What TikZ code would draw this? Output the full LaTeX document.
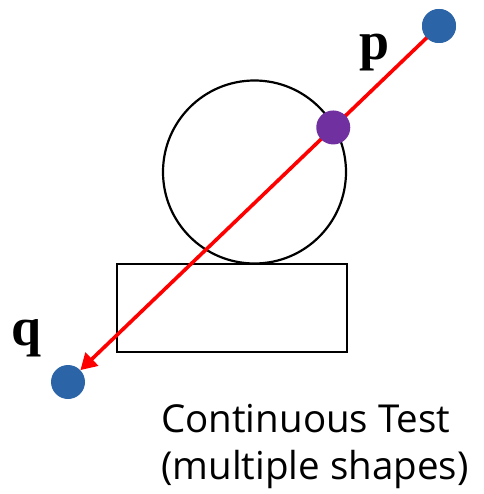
\documentclass[tikz,border=0pt]{standalone}
\usepackage{fontspec}
\setmainfont{Liberation Serif}
\newfontfamily\capfont{Open Sans}
\usetikzlibrary{arrows.meta,calc}
\begin{document}
\begin{tikzpicture}[x=1pt,y=-1pt,
  dot/.style={circle,inner sep=0pt,minimum size=34pt},
  outline/.style={draw=black,line width=2.2pt},
  ray/.style={draw=red,line width=3.6pt,-{Triangle[length=16pt,width=18pt]}},
  lbl/.style={font=\fontsize{54}{54}\selectfont\bfseries,inner sep=0pt,anchor=base}]
\useasboundingbox (0,0) rectangle (483,494);
\node[outline,circle,minimum size=183pt,inner sep=0pt] (circ) at (254.5,172) {};
\node[outline,rectangle,minimum width=230pt,minimum height=88pt,inner sep=0pt] (box) at (232,308) {};
\node[dot,fill={rgb,255:red,43;green,101;blue,168}] (p) at (439,26) {};
\node[dot,fill={rgb,255:red,43;green,101;blue,168}] (q) at (68,382) {};
\draw[ray] (p.center) -- (q);
\node[dot,fill={rgb,255:red,43;green,101;blue,168}] (p2) at (p.center) {};
\node[dot,fill={rgb,255:red,112;green,48;blue,160}] (hit) at ($(p.center)!0.285!(q.center)$) {};
\node[lbl] (plbl) at (374.5,60) {p};
\node[lbl] (qlbl) at (26.5,345) {q};
\node[font=\capfont\fontsize{38.5}{47}\selectfont,align=left,anchor=base west,inner sep=0pt] (cap) at (161,479) {Continuous Test\\(multiple shapes)};
\end{tikzpicture}
\end{document}
